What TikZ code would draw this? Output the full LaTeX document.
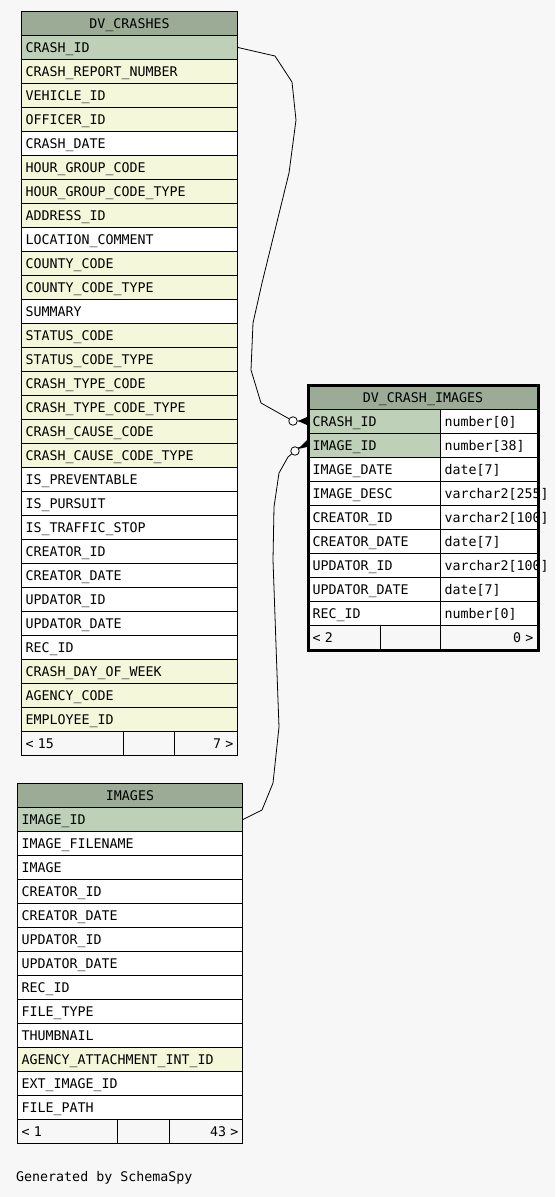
\documentclass[tikz,border=0pt]{standalone}
\usepackage{fontspec}
\setmonofont{DejaVu Sans Mono}
\usepackage{tikz}
\usetikzlibrary{positioning}
\hyphenpenalty=10000
\definecolor{pagebg}{HTML}{F7F7F7}
\definecolor{hdrgreen}{HTML}{9BAB96}
\definecolor{keygreen}{HTML}{BED1B8}
\definecolor{idxyellow}{HTML}{F4F7DA}
\newcommand{\erdfont}{\ttfamily\fontsize{13.3}{16}\selectfont}
\tikzset{
  fieldbox/.style={draw=black,line width=1pt,anchor=north west,minimum height=24pt,
    inner xsep=4pt,inner ysep=0pt,align=left,font=\erdfont,text height=9.5pt,text depth=0pt},
  headbox/.style={fieldbox,fill=hdrgreen,align=center},
  keyrow/.style={fill=keygreen},
  idxrow/.style={fill=idxyellow},
  plainrow/.style={fill=white},
  footcell/.style={fieldbox,fill=pagebg},
  relation/.style={line width=0.8pt,draw=black},
  ring/.style={shape=circle,draw=black,fill=white,inner sep=0pt,minimum size=8.5pt,line width=0.8pt}
}

\begin{document}
\begin{tikzpicture}[x=1pt,y=-1pt]
  \fill[pagebg] (0,0) rectangle (555,1197);
  \useasboundingbox (0,0) rectangle (555,1197);

  % DV_CRASHES
  \node[headbox,text width=208pt] (crash-head) at (21,11) {DV\_CRASHES};
  \foreach \fld/\kind [count=\i] in {CRASH\_ID/keyrow, CRASH\_REPORT\_NUMBER/idxrow,
      VEHICLE\_ID/idxrow, OFFICER\_ID/idxrow, CRASH\_DATE/plainrow, HOUR\_GROUP\_CODE/idxrow,
      HOUR\_GROUP\_CODE\_TYPE/idxrow, ADDRESS\_ID/idxrow, LOCATION\_COMMENT/plainrow,
      COUNTY\_CODE/idxrow, COUNTY\_CODE\_TYPE/idxrow, SUMMARY/plainrow, STATUS\_CODE/idxrow,
      STATUS\_CODE\_TYPE/idxrow, CRASH\_TYPE\_CODE/idxrow, CRASH\_TYPE\_CODE\_TYPE/idxrow,
      CRASH\_CAUSE\_CODE/idxrow, CRASH\_CAUSE\_CODE\_TYPE/idxrow, IS\_PREVENTABLE/plainrow,
      IS\_PURSUIT/plainrow, IS\_TRAFFIC\_STOP/plainrow, CREATOR\_ID/plainrow,
      CREATOR\_DATE/plainrow, UPDATOR\_ID/plainrow, UPDATOR\_DATE/plainrow, REC\_ID/plainrow,
      CRASH\_DAY\_OF\_WEEK/idxrow, AGENCY\_CODE/idxrow, EMPLOYEE\_ID/idxrow}
    \node[fieldbox,\kind,text width=208pt] (crash-\i) at (21,{11+24*\i}) {\fld};
  \node[footcell,text width=94pt] (crash-foot-l) at (21,731) {< 15};
  \node[footcell,text width=43pt] (crash-foot-m) at (123,731) {};
  \node[footcell,text width=55pt,align=right] (crash-foot-r) at (174,731) {7 >};

  % IMAGES
  \node[headbox,text width=217pt] (image-head) at (17,783) {IMAGES};
  \foreach \fld/\kind [count=\i] in {IMAGE\_ID/keyrow, IMAGE\_FILENAME/plainrow,
      IMAGE/plainrow, CREATOR\_ID/plainrow, CREATOR\_DATE/plainrow, UPDATOR\_ID/plainrow,
      UPDATOR\_DATE/plainrow, REC\_ID/plainrow, FILE\_TYPE/plainrow, THUMBNAIL/plainrow,
      AGENCY\_ATTACHMENT\_INT\_ID/idxrow, EXT\_IMAGE\_ID/plainrow, FILE\_PATH/plainrow}
    \node[fieldbox,\kind,text width=217pt] (image-\i) at (17,{783+24*\i}) {\fld};
  \node[footcell,text width=92pt] (image-foot-l) at (17,1119) {< 1};
  \node[footcell,text width=44pt] (image-foot-m) at (117,1119) {};
  \node[footcell,text width=65pt,align=right] (image-foot-r) at (169,1119) {43 >};

  % links
  \node[ring] (crash-ring) at (293,421) {};
  \node[ring] (image-ring) at (295,451) {};
  \draw[relation] (crash-1.east) -- (275,56) -- (292,82) -- (296,120) -- (289,173)
    -- (262,283) -- (253,323) -- (251,370) -- (261,403) -- (crash-ring);
  \draw[relation] (image-1.east) -- (262,810) -- (273,783) -- (279,727) -- (277,673)
    -- (273,560) -- (274,507) -- (279,473) -- (288,457) -- (image-ring);

  % DV_CRASH_IMAGES
  \node[headbox,text width=221pt] (dci-head) at (308,385) {DV\_CRASH\_IMAGES};
  \foreach \fld/\dtype/\kind [count=\i] in {CRASH\_ID/number[0]/keyrow,
      IMAGE\_ID/number[38]/keyrow, IMAGE\_DATE/date[7]/plainrow,
      IMAGE\_DESC/varchar2[255]/plainrow, CREATOR\_ID/varchar2[100]/plainrow,
      CREATOR\_DATE/date[7]/plainrow, UPDATOR\_ID/varchar2[100]/plainrow,
      UPDATOR\_DATE/date[7]/plainrow, REC\_ID/number[0]/plainrow} {
    \node[fieldbox,\kind,text width=124pt] (dci-\i) at (308,{385+24*\i}) {\fld};
    \node[fieldbox,plainrow,text width=89pt] (dci-\i-type) at (440,{385+24*\i}) {\dtype};
  }
  \node[footcell,text width=64pt] (dci-foot-l) at (308,625) {< 2};
  \node[footcell,text width=52pt] (dci-foot-m) at (380,625) {};
  \node[footcell,text width=89pt,align=right] (dci-foot-r) at (440,625) {0 >};
  \draw[line width=3pt] (dci-head.north west) rectangle (dci-foot-r.south east);

  % crow's feet
  \draw[relation] (crash-ring.east) -- (dci-1.west);
  \fill (298,421) -- (307,417) -- (307,425) -- cycle;
  \draw[relation] (image-ring.north east) -- (dci-2.west);
  \fill (298,449) -- (307,440) -- (307,447) -- cycle;

  \node[anchor=west,font=\erdfont,inner sep=0pt] (credit) at (16,1178) {Generated by SchemaSpy};
\end{tikzpicture}
\end{document}
